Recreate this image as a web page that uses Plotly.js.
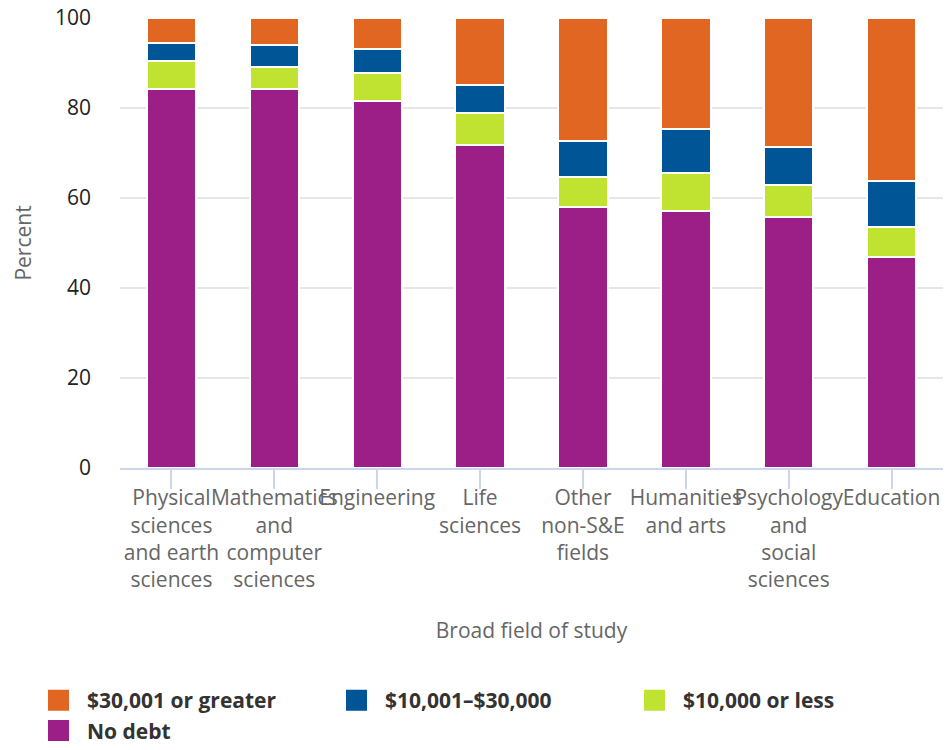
<!DOCTYPE html>
<html>
<head>
<meta charset="utf-8">
<script src="https://cdn.plot.ly/plotly-3.0.1.min.js"></script>
<style>html,body{margin:0;padding:0;background:#fff;}</style>
</head>
<body>
<div id="chart" style="width:947px;height:750px;"></div>
<script>
var categories = [
  "Physical<br>sciences<br>and earth<br>sciences",
  "Mathematics<br>and<br>computer<br>sciences",
  "Engineering",
  "Life<br>sciences",
  "Other<br>non-S&amp;E<br>fields",
  "Humanities<br>and arts",
  "Psychology<br>and<br>social<br>sciences",
  "Education"
];
var noDebt      = [84.2, 84.2, 81.6, 71.8, 58.0, 57.1, 55.8, 46.9];
var upTo10k     = [ 6.2,  4.9,  6.2,  7.1,  6.7,  8.5,  7.1,  6.7];
var from10to30k = [ 4.0,  4.9,  5.3,  6.2,  8.0,  9.7,  8.4, 10.2];
var over30k     = [ 5.6,  6.0,  6.9, 14.9, 27.3, 24.7, 28.7, 36.2];

var seriesNames = ["No debt", "$10,000 or less", "$10,001–$30,000", "$30,001 or greater"];
var seriesColors = ["#9c1f88", "#c0e332", "#005597", "#e16622"];
var seriesValues = [noDebt, upTo10k, from10to30k, over30k];

var traces = [];
for (var i = 0; i < seriesValues.length; i++) {
  traces.push({
    type: "bar",
    x: categories,
    y: seriesValues[i],
    name: seriesNames[i],
    showlegend: false,
    marker: {color: seriesColors[i], line: {color: "#ffffff", width: 2}},
    hoverinfo: "y+name"
  });
}
// legend entries (largest debt first, as in the reference)
for (var j = seriesValues.length - 1; j >= 0; j--) {
  traces.push({
    type: "scatter",
    mode: "markers",
    x: [null],
    y: [null],
    name: seriesNames[j],
    showlegend: true,
    hoverinfo: "skip",
    marker: {symbol: "square", size: 16, color: seriesColors[j], line: {color: seriesColors[j], width: 5}}
  });
}

var layout = {
  width: 947,
  height: 750,
  margin: {l: 120, r: 4, t: 18, b: 282, autoexpand: false},
  paper_bgcolor: "#ffffff",
  plot_bgcolor: "#ffffff",
  barmode: "stack",
  bargap: 0.52,
  font: {family: "Open Sans, sans-serif", size: 21, color: "#666666"},
  showlegend: true,
  legend: {
    orientation: "h",
    xref: "paper", yref: "paper",
    x: (30 - 120) / 823, xanchor: "left",
    y: (468 - 680) / 450, yanchor: "top",
    traceorder: "normal",
    itemwidth: 47,
    entrywidth: 236, entrywidthmode: "pixels",
    font: {family: "Open Sans, sans-serif", size: 21, color: "#333333", weight: "bold"},
    bgcolor: "rgba(0,0,0,0)"
  },
  xaxis: {
    type: "category",
    showgrid: false,
    showline: true, linecolor: "#ccd6eb", linewidth: 2,
    ticks: "outside", ticklen: 19, tickwidth: 2, tickcolor: "#ccd6eb",
    tickangle: 0,
    ticklabelstandoff: -9,
    tickfont: {family: "Open Sans, sans-serif", size: 21, color: "#666666"},
    automargin: true,
    title: {text: "Broad field of study", font: {family: "Open Sans, sans-serif", size: 21, color: "#666666"}, standoff: 31},
    fixedrange: true
  },
  yaxis: {
    range: [0, 100],
    dtick: 20,
    showgrid: true, gridcolor: "#e6e6e6", gridwidth: 2,
    zeroline: false,
    showline: false,
    ticks: "",
    ticklabelstandoff: 28,
    tickfont: {family: "Open Sans, sans-serif", size: 21, color: "#222222"},
    automargin: true,
    title: {text: "Percent", font: {family: "Open Sans, sans-serif", size: 21, color: "#666666"}, standoff: 17},
    fixedrange: true
  }
};

Plotly.newPlot("chart", traces, layout, {displayModeBar: false, staticPlot: true});
</script>
</body>
</html>
